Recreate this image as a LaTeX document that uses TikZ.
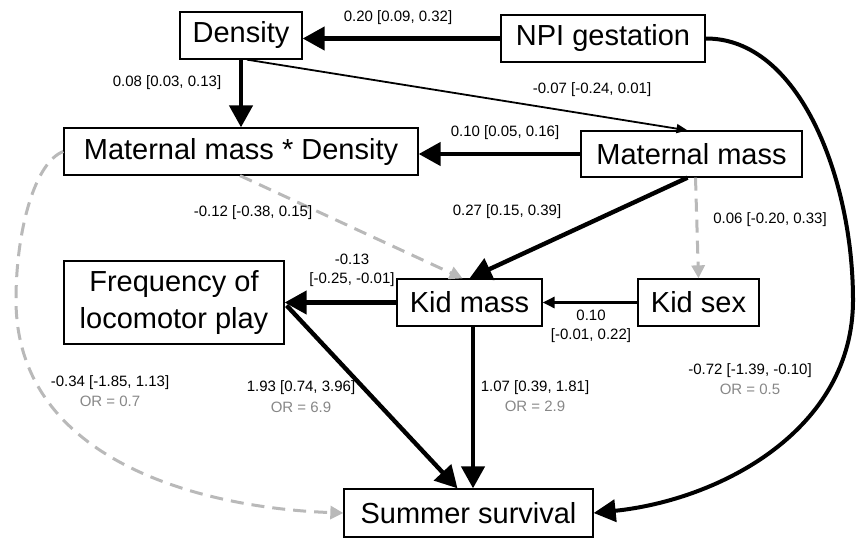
\documentclass[tikz,border=0pt]{standalone}
\usepackage{fontspec}
\setmainfont{Liberation Sans}
\usetikzlibrary{arrows.meta}
\definecolor{dgray}{RGB}{185,185,185}
\definecolor{orgray}{RGB}{135,135,135}
\tikzset{
  box/.style={draw, line width=1.3pt, inner sep=0pt, font=\fontsize{29}{37}\selectfont, align=center},
  lab/.style={font=\fontsize{15}{19}\selectfont, inner sep=0pt, align=center},
  orlab/.style={lab, text=orgray},
  strong/.style={line width=4.4pt, -{Triangle[length=22pt,width=23pt]}},
  medium/.style={line width=3pt, -{Triangle[length=12pt,width=11pt]}},
  weak/.style={line width=1.8pt, -{Triangle[length=11pt,width=9pt]}},
  nsline/.style={dgray, line width=3pt, dash pattern=on 13pt off 8pt, -{Triangle[length=13pt,width=13pt]}},
}
\begin{document}
\begin{tikzpicture}[x=1pt,y=-1pt]
\useasboundingbox (0,0) rectangle (858,538);
% nodes
\node[box, minimum width=122pt, minimum height=47pt] (den) at (241,35.5) {Density};
\node[box, minimum width=204pt, minimum height=47pt] (npi) at (603,38.5) {NPI gestation};
\node[box, minimum width=354pt, minimum height=47pt] (mmd) at (241,151.5) {Maternal mass * Density};
\node[box, minimum width=221pt, minimum height=46pt] (mm) at (691.5,154) {Maternal mass};
\node[box, minimum width=220pt, minimum height=83pt] (freq) at (174,302.5) {Frequency of\\locomotor play};
\node[box, minimum width=145pt, minimum height=47pt] (km) at (469.5,302.5) {Kid mass};
\node[box, minimum width=121pt, minimum height=47pt] (ks) at (698.5,302.5) {Kid sex};
\node[box, minimum width=249pt, minimum height=48pt] (ss) at (468.5,513) {Summer survival};
% connectors
\draw[strong] (npi.west) -- (npi.west -| den.east);
\draw[strong] (den.south) -- (mmd.north);
\draw[weak] ([xshift=6pt]den.south) -- ([xshift=-4pt]mm.north);
\draw[strong] (mm.west) -- (mm.west -| mmd.east);
\draw[nsline] ([xshift=-1pt]mmd.south) -- ([xshift=-7pt]km.north);
\draw[strong] ([xshift=-4pt]mm.south) -- (km.north);
\draw[nsline] ([xshift=4pt]mm.south) -- (ks.north);
\draw[medium] (ks.west) -- (km.east);
\draw[strong] (km.west) -- (freq.east);
\draw[strong] ([xshift=2pt,yshift=-3pt]freq.east) -- ([xshift=-11pt]ss.north);
\draw[strong] ([xshift=3.5pt]km.south) -- ([xshift=4.5pt]ss.north);
\draw[line width=4pt, -{Triangle[length=22pt,width=22pt]}] (npi.east) .. controls (800,38) and (853,180) .. (853,300) .. controls (853,430) and (720,500) .. (ss.east);
\draw[nsline] (mmd.west) .. controls (35,162) and (16,230) .. (16,300) .. controls (16,460) and (200,508) .. (ss.west);
% labels
\node[lab] (l1) at (398,18) {0.20 [0.09, 0.32]};
\node[lab] (l2) at (167,83) {0.08 [0.03, 0.13]};
\node[lab] (l3) at (592,90) {-0.07 [-0.24, 0.01]};
\node[lab] (l4) at (505,133) {0.10 [0.05, 0.16]};
\node[lab] (l5) at (253,213) {-0.12 [-0.38, 0.15]};
\node[lab] (l6) at (507,212) {0.27 [0.15, 0.39]};
\node[lab] (l7) at (770,220) {0.06 [-0.20, 0.33]};
\node[lab] (l8) at (352,270.5) {-0.13\\{[}-0.25, -0.01]};
\node[lab] (l9) at (591,326.5) {0.10\\{[}-0.01, 0.22]};
\node[lab] (l10) at (750,371) {-0.72 [-1.39, -0.10]};
\node[orlab] (o10) at (750,389) {OR = 0.5};
\node[lab] (l11) at (535,388) {1.07 [0.39, 1.81]};
\node[orlab] (o11) at (535,406) {OR = 2.9};
\node[lab] (l12) at (301,388) {1.93 [0.74, 3.96]};
\node[orlab] (o12) at (301,407) {OR = 6.9};
\node[lab] (l13) at (110,383) {-0.34 [-1.85, 1.13]};
\node[orlab] (o13) at (110,401) {OR = 0.7};
\end{tikzpicture}
\end{document}
